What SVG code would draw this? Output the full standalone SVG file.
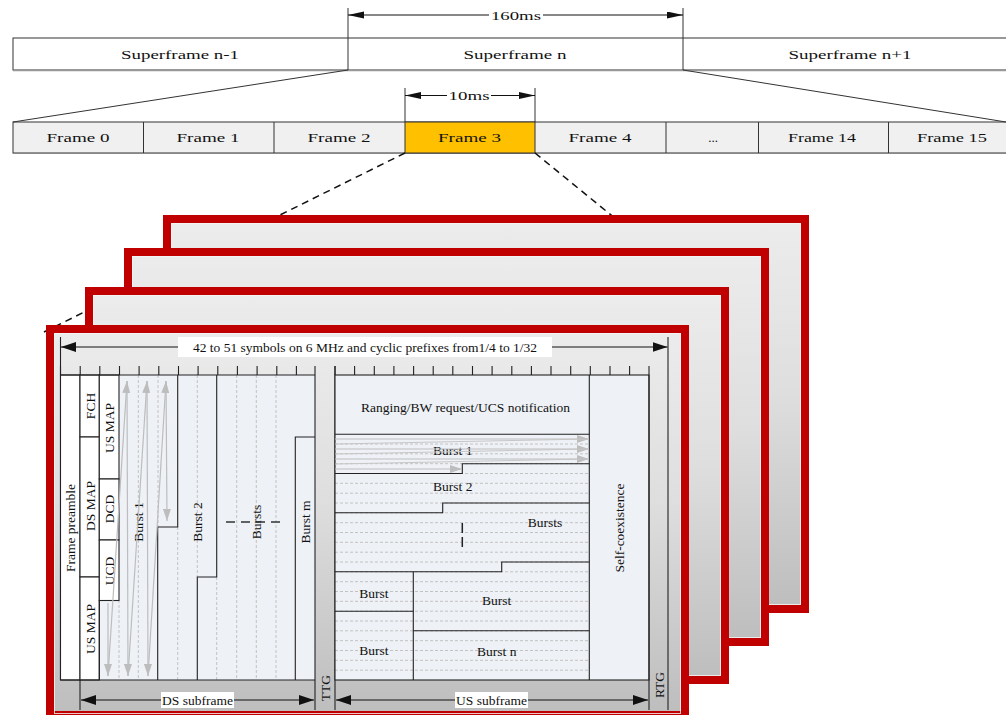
<svg xmlns="http://www.w3.org/2000/svg" width="1006" height="715" viewBox="0 0 1006 715">
<style>
text{font-family:"Liberation Serif","Times New Roman",serif;fill:#111;}
.t13{font-size:13px;}
.ti{font-size:13.5px;}
.ln{stroke:#222;stroke-width:1.1;fill:none;}
.cell{stroke:#333;stroke-width:1;}
.dv{stroke:#c2c2c2;stroke-width:1;stroke-dasharray:3 2;fill:none;}
.ga{stroke:#bdbdbd;stroke-width:1.2;fill:none;marker-end:url(#mg);}
.fr{fill:url(#fg);stroke:#c00000;stroke-width:8;}
.frin{fill:none;stroke:#f6f6f6;stroke-width:1;opacity:0.8;}
.wb{fill:#fff;stroke:#222;stroke-width:1.1;}
.lt{fill:#eef1f6;}
.dim{stroke:#111;stroke-width:1;fill:none;marker-start:url(#mb);marker-end:url(#mb);}
.dimt{stroke:#111;stroke-width:1;fill:none;marker-start:url(#mt);marker-end:url(#mt);}
.dash{stroke:#111;stroke-width:1.5;stroke-dasharray:7 5;fill:none;}
</style>
<defs>
<linearGradient id="fg" x1="0" y1="0" x2="0" y2="1">
<stop offset="0" stop-color="#ececec"/>
<stop offset="0.45" stop-color="#dedede"/>
<stop offset="1" stop-color="#bdbdbd"/>
</linearGradient>
<marker id="mb" markerUnits="userSpaceOnUse" markerWidth="15" markerHeight="10" refX="15" refY="5" orient="auto-start-reverse"><path d="M0,0 L15,5 L0,10 z" fill="#111"/></marker>
<marker id="mt" markerUnits="userSpaceOnUse" markerWidth="16" markerHeight="8" refX="16" refY="3.5" orient="auto-start-reverse"><path d="M0,0 L16,3.5 L0,7 z" fill="#111"/></marker>
<marker id="mg" markerUnits="userSpaceOnUse" markerWidth="12" markerHeight="8" refX="12" refY="4" orient="auto"><path d="M0,0 L12,4 L0,8 z" fill="#bdbdbd"/></marker>
</defs>
<rect width="1006" height="715" fill="#fff"/>

<g id="superframes">
<rect x="13" y="38" width="1000" height="32" fill="#fff" class="cell"/>
<line x1="13" y1="70.5" x2="1006" y2="70.5" stroke="#999" stroke-width="1.5"/>
<line x1="348" y1="38" x2="348" y2="70" class="cell"/>
<line x1="683" y1="38" x2="683" y2="70" class="cell"/>
<text class="t13" x="180" y="58.5" text-anchor="middle" textLength="118" lengthAdjust="spacingAndGlyphs">Superframe n-1</text>
<text class="t13" x="515" y="58.5" text-anchor="middle" textLength="103" lengthAdjust="spacingAndGlyphs">Superframe n</text>
<text class="t13" x="850" y="58.5" text-anchor="middle" textLength="123" lengthAdjust="spacingAndGlyphs">Superframe n+1</text>
</g>

<g id="dim-160ms">
<line x1="348" y1="8" x2="348" y2="38" class="cell"/>
<line x1="683" y1="8" x2="683" y2="38" class="cell"/>
<line x1="348" y1="15" x2="683" y2="15" class="dimt"/>
<rect x="489" y="7" width="54" height="15" fill="#fff"/>
<text class="t13" x="516" y="19.5" text-anchor="middle" textLength="50" lengthAdjust="spacingAndGlyphs">160ms</text>
</g>

<g id="frames">
<rect x="13" y="122" width="1000" height="31" fill="#f0f0f0" class="cell"/>
<line x1="13" y1="153.5" x2="1006" y2="153.5" stroke="#888" stroke-width="1.2"/>
<rect x="405" y="122" width="130" height="31" fill="#ffc000" class="cell"/>
<g class="cell">
<line x1="143.5" y1="122" x2="143.5" y2="153"/>
<line x1="274" y1="122" x2="274" y2="153"/>
<line x1="666" y1="122" x2="666" y2="153"/>
<line x1="758.5" y1="122" x2="758.5" y2="153"/>
<line x1="888.5" y1="122" x2="888.5" y2="153"/>
</g>
<text class="t13" x="78" y="142" text-anchor="middle" textLength="63" lengthAdjust="spacingAndGlyphs">Frame 0</text>
<text class="t13" x="208" y="142" text-anchor="middle" textLength="63" lengthAdjust="spacingAndGlyphs">Frame 1</text>
<text class="t13" x="339" y="142" text-anchor="middle" textLength="63" lengthAdjust="spacingAndGlyphs">Frame 2</text>
<text class="t13" x="469.5" y="142" text-anchor="middle" textLength="63" lengthAdjust="spacingAndGlyphs">Frame 3</text>
<text class="t13" x="600" y="142" text-anchor="middle" textLength="63" lengthAdjust="spacingAndGlyphs">Frame 4</text>
<text class="t13" x="713" y="142" text-anchor="middle">...</text>
<text class="t13" x="822" y="142" text-anchor="middle" textLength="68" lengthAdjust="spacingAndGlyphs">Frame 14</text>
<text class="t13" x="952" y="142" text-anchor="middle" textLength="70" lengthAdjust="spacingAndGlyphs">Frame 15</text>
</g>

<g id="dim-10ms">
<line x1="405" y1="88" x2="405" y2="122" class="cell"/>
<line x1="535" y1="88" x2="535" y2="122" class="cell"/>
<line x1="405" y1="95.5" x2="535" y2="95.5" class="dimt"/>
<rect x="447" y="88" width="44" height="15" fill="#fff"/>
<text class="t13" x="469" y="100" text-anchor="middle" textLength="41" lengthAdjust="spacingAndGlyphs">10ms</text>
</g>

<g id="connectors">
<line x1="348" y1="70" x2="13" y2="122" class="cell"/>
<line x1="683" y1="70" x2="1006" y2="122" class="cell"/>
<line x1="405" y1="153" x2="40" y2="334" class="dash"/>
<line x1="535" y1="153" x2="622" y2="224" class="dash"/>
</g>

<g id="frame-stack">
<rect x="167" y="219" width="638" height="390" class="fr"/>
<rect x="171.5" y="223.5" width="629" height="381" class="frin"/>
<rect x="128" y="252" width="637" height="390" class="fr"/>
<rect x="132.5" y="256.5" width="628" height="381" class="frin"/>
<rect x="89" y="291" width="636" height="389" class="fr"/>
<rect x="93.5" y="295.5" width="627" height="380" class="frin"/>
<rect x="50" y="329" width="635" height="386" class="fr"/>
<rect x="54.5" y="333.5" width="626" height="380" class="frin"/>
</g>

<g id="symbols-dim">
<line x1="60.5" y1="337" x2="60.5" y2="680" class="ln"/>
<line x1="668" y1="337" x2="668" y2="710" class="ln"/>
<line x1="61" y1="347" x2="667.5" y2="347" class="dim"/>
<rect x="178" y="337" width="374" height="20" fill="#fff"/>
<text class="ti" x="365" y="351.5" text-anchor="middle">42 to 51 symbols on 6 MHz and cyclic prefixes from1/4 to 1/32</text>
</g>

<g id="ds-subframe">
<rect x="60.5" y="375" width="254.5" height="305" class="lt"/>
<g class="dv">
<line x1="119" y1="600" x2="119" y2="680"/>
<line x1="138.3" y1="375" x2="138.3" y2="680"/>
<line x1="158" y1="375" x2="158" y2="527"/>
<line x1="177.7" y1="527" x2="177.7" y2="680"/>
<line x1="197.3" y1="375" x2="197.3" y2="577"/>
<line x1="216.7" y1="577" x2="216.7" y2="680"/>
<line x1="236.7" y1="375" x2="236.7" y2="680"/>
<line x1="256.3" y1="375" x2="256.3" y2="680"/>
<line x1="276" y1="375" x2="276" y2="680"/>
</g>
<g id="preamble"><rect x="60.5" y="375" width="19.5" height="305" class="wb"/>
<text class="ti" transform="translate(75,528) rotate(-90)" text-anchor="middle">Frame preamble</text></g>
<g id="fch"><rect x="80" y="375" width="19.3" height="62" class="wb"/>
<text class="ti" transform="translate(94.5,406) rotate(-90)" text-anchor="middle">FCH</text></g>
<g id="dsmap"><rect x="80" y="437" width="19.3" height="140" class="wb"/>
<text class="ti" transform="translate(94.5,506) rotate(-90)" text-anchor="middle">DS MAP</text></g>
<g id="usmap1"><rect x="80" y="577" width="19.3" height="103" class="wb"/>
<text class="ti" transform="translate(94.5,629) rotate(-90)" text-anchor="middle">US MAP</text></g>
<g id="usmap2"><rect x="99.3" y="375" width="19.7" height="104" class="wb"/>
<text class="ti" transform="translate(114,428) rotate(-90)" text-anchor="middle">US MAP</text></g>
<g id="dcd"><rect x="99.3" y="479" width="19.7" height="61" class="wb"/>
<text class="ti" transform="translate(114,509) rotate(-90)" text-anchor="middle">DCD</text></g>
<g id="ucd"><rect x="99.3" y="540" width="19.7" height="60.5" class="wb"/>
<text class="ti" transform="translate(114,571) rotate(-90)" text-anchor="middle">UCD</text></g>
<g class="ln">
<line x1="60.5" y1="375" x2="315" y2="375"/>
<line x1="60.5" y1="680" x2="315" y2="680"/>
<line x1="99.3" y1="600" x2="99.3" y2="680"/>
<polyline points="177.7,375 177.7,527 157.7,527 157.7,680"/>
<polyline points="216.7,375 216.7,577 197.3,577 197.3,680"/>
<polyline points="315,437 295.3,437 295.3,680"/>
<line x1="315" y1="366" x2="315" y2="710"/>
<line x1="80" y1="680" x2="80" y2="710"/>
<path d="M60.5,366V375M80.2,366V375M99.8,366V375M119.5,366V375M139.1,366V375M158.8,366V375M178.5,366V375M198.1,366V375M217.8,366V375M237.4,366V375M257.1,366V375M276.8,366V375M296.4,366V375"/>
</g>
<g id="ds-burst1"><text class="ti" transform="translate(143,522) rotate(-90)" text-anchor="middle">Burst 1</text></g>
<g id="ds-burst2"><text class="ti" transform="translate(201.8,522) rotate(-90)" text-anchor="middle">Burst 2</text></g>
<g id="ds-bursts"><text class="ti" transform="translate(260.5,522) rotate(-90)" text-anchor="middle">Bursts</text>
<line x1="226" y1="522" x2="282" y2="522" stroke="#333" stroke-width="1.5" stroke-dasharray="9 6"/></g>
<g id="ds-burstm"><text class="ti" transform="translate(309.5,522) rotate(-90)" text-anchor="middle">Burst m</text></g>
<g id="ds-arrows">
<line x1="108" y1="603" x2="108" y2="676" class="ga"/>
<line x1="108" y1="676" x2="127" y2="381" class="ga"/>
<line x1="127" y1="381" x2="128" y2="676" class="ga"/>
<line x1="128" y1="676" x2="147" y2="381" class="ga"/>
<line x1="147" y1="381" x2="148" y2="676" class="ga"/>
<line x1="148" y1="676" x2="166" y2="381" class="ga"/>
<line x1="166" y1="381" x2="167" y2="521" class="ga"/>
</g>
<line x1="81" y1="700" x2="314" y2="700" class="dim"/>
<rect x="161" y="692" width="73" height="16" fill="#fff"/>
<text class="ti" x="197.5" y="704.5" text-anchor="middle">DS subframe</text>
</g>

<g id="ttg">
<line x1="335" y1="366" x2="335" y2="710" class="ln"/>
<text class="ti" transform="translate(330,688) rotate(-90)" text-anchor="middle">TTG</text>
</g>

<g id="us-subframe">
<rect x="335" y="375" width="314" height="305" class="lt"/>
<g class="dv" stroke-dasharray="4 2.5">
<path d="M335,444H589M335,453.8H589M335,463.7H589M335,473.5H589M335,483.3H589M335,493.2H589M335,503H589M335,512.8H589M335,522.7H589M335,532.5H589M335,542.3H589M335,552.2H589M335,562H589M335,571.8H589M335,581.7H589M335,591.5H589M335,601.3H589M335,611.2H589M335,621H589M335,630.8H589M335,640.7H589M335,650.5H589M335,660.3H589M335,670.2H589"/>
</g>
<g class="ln">
<rect x="335" y="375" width="314" height="305"/>
<line x1="589.3" y1="375" x2="589.3" y2="680"/>
<line x1="335" y1="434.2" x2="589.3" y2="434.2"/>
<polyline points="335,473.5 462.3,473.5 462.3,463.7 589.3,463.7"/>
<polyline points="335,512.8 442.7,512.8 442.7,503 589.3,503"/>
<polyline points="335,571.8 501.7,571.8 501.7,562 589.3,562"/>
<line x1="413.3" y1="571.8" x2="413.3" y2="680"/>
<line x1="335" y1="611.2" x2="413.3" y2="611.2"/>
<line x1="413.3" y1="630.8" x2="589.3" y2="630.8"/>
<line x1="649" y1="366" x2="649" y2="710"/>
<path d="M335,366V375M354.6,366V375M374.3,366V375M393.9,366V375M413.6,366V375M433.2,366V375M452.8,366V375M472.5,366V375M492.1,366V375M511.8,366V375M531.4,366V375M551,366V375M570.7,366V375M590.3,366V375M610,366V375M629.6,366V375"/>
</g>
<g id="ranging"><text class="ti" x="465.5" y="411.5" text-anchor="middle">Ranging/BW request/UCS notification</text></g>
<g id="us-burst1"><text class="ti" x="452.7" y="454.5" text-anchor="middle">Burst 1</text></g>
<g id="us-arrows">
<line x1="335" y1="439" x2="589" y2="439" class="ga"/>
<line x1="335" y1="449" x2="589" y2="449" class="ga"/>
<line x1="335" y1="459" x2="589" y2="459" class="ga"/>
<line x1="335" y1="469" x2="462" y2="469" class="ga"/>
<line x1="335" y1="444" x2="589" y2="439" stroke="#c6c6c6" stroke-width="1"/>
<line x1="335" y1="454" x2="589" y2="449" stroke="#c6c6c6" stroke-width="1"/>
<line x1="335" y1="464" x2="589" y2="459" stroke="#c6c6c6" stroke-width="1"/>
</g>
<g id="us-burst2"><text class="ti" x="452.7" y="491" text-anchor="middle">Burst 2</text></g>
<g id="us-bursts"><text class="ti" x="545" y="526.5" text-anchor="middle">Bursts</text>
<line x1="462.3" y1="523" x2="462.3" y2="547" stroke="#222" stroke-width="1.5" stroke-dasharray="10 4"/></g>
<g id="us-burst-a"><text class="ti" x="374" y="597.5" text-anchor="middle">Burst</text></g>
<g id="us-burst-b"><text class="ti" x="496.7" y="604.5" text-anchor="middle">Burst</text></g>
<g id="us-burst-c"><text class="ti" x="374" y="654.5" text-anchor="middle">Burst</text></g>
<g id="us-burst-n"><text class="ti" x="496.7" y="656" text-anchor="middle">Burst n</text></g>
<g id="self-coexistence"><text class="ti" transform="translate(624,528) rotate(-90)" text-anchor="middle">Self-coexistence</text></g>
<line x1="336" y1="700" x2="648" y2="700" class="dim"/>
<rect x="455" y="692" width="73" height="16" fill="#fff"/>
<text class="ti" x="491.5" y="704.5" text-anchor="middle">US subframe</text>
</g>

<g id="rtg">
<text class="ti" transform="translate(663.5,685) rotate(-90)" text-anchor="middle">RTG</text>
</g>
</svg>
